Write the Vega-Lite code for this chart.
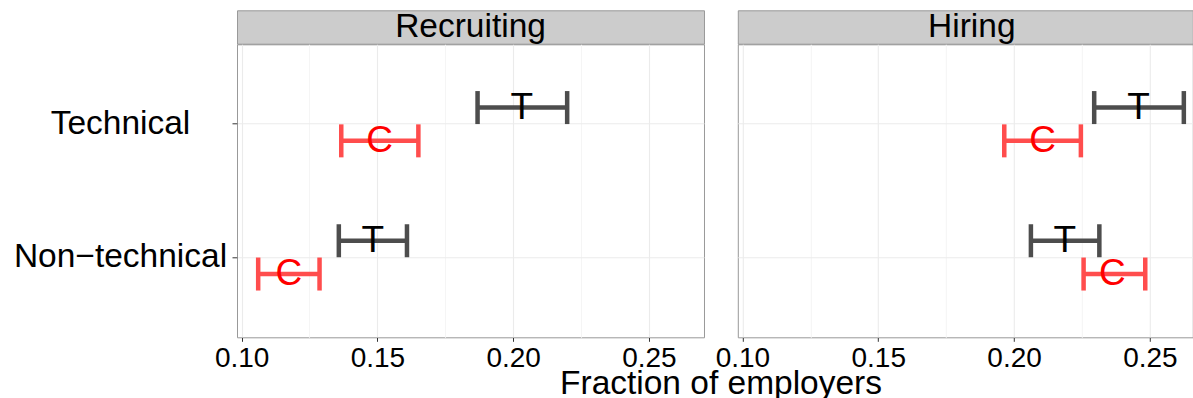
{
  "$schema": "https://vega.github.io/schema/vega-lite/v6.json",
  "padding": {"left": 12, "top": 9.3, "right": 0, "bottom": 0},
  "autosize": {"type": "pad"},
  "background": "white",
  "config": {"font": "Liberation Sans", "view": {"stroke": "#999999", "strokeWidth": 1}},
  "datasets": {
    "ci": [
      {"stage": "Recruiting", "job": "Technical", "group": "T", "lo": 0.1869, "mean": 0.2032, "hi": 0.2199},
      {"stage": "Recruiting", "job": "Technical", "group": "C", "lo": 0.1367, "mean": 0.1508, "hi": 0.1651},
      {"stage": "Recruiting", "job": "Non−technical", "group": "T", "lo": 0.1358, "mean": 0.1483, "hi": 0.1609},
      {"stage": "Recruiting", "job": "Non−technical", "group": "C", "lo": 0.1061, "mean": 0.1174, "hi": 0.1287},
      {"stage": "Hiring", "job": "Technical", "group": "T", "lo": 0.2295, "mean": 0.2458, "hi": 0.2625},
      {"stage": "Hiring", "job": "Technical", "group": "C", "lo": 0.1964, "mean": 0.2105, "hi": 0.2246},
      {"stage": "Hiring", "job": "Non−technical", "group": "T", "lo": 0.2062, "mean": 0.2187, "hi": 0.2314},
      {"stage": "Hiring", "job": "Non−technical", "group": "C", "lo": 0.2256, "mean": 0.2362, "hi": 0.2483}
    ],
    "strips": [{"stage": "Recruiting"}, {"stage": "Hiring"}]
  },
  "columns": 2,
  "align": "each",
  "bounds": "flush",
  "spacing": {"row": 0, "column": 33.8},
  "concat": [
    {
      "width": 467, "height": 33.4,
      "view": {"fill": "#cccccc", "stroke": "#999999"},
      "data": {"name": "strips"},
      "transform": [{"filter": "datum.stage === 'Recruiting'"}],
      "mark": {"type": "text", "fontSize": 33.5, "baseline": "middle", "color": "#000000"},
      "encoding": {"text": {"field": "stage", "type": "nominal"}}
    },
    {
      "width": 455, "height": 33.4,
      "view": {"fill": "#cccccc", "stroke": "#999999"},
      "data": {"name": "strips"},
      "transform": [{"filter": "datum.stage === 'Hiring'"}],
      "mark": {"type": "text", "fontSize": 33.5, "baseline": "middle", "color": "#000000", "dx": 6.5},
      "encoding": {"text": {"field": "stage", "type": "nominal"}}
    },
    {
      "width": 467, "height": 293,
      "data": {"name": "ci"},
      "transform": [{"filter": "datum.stage === 'Recruiting'"}],
      "encoding": {
        "y": {"field": "job", "type": "nominal", "sort": ["Technical", "Non−technical"],
              "scale": {"type": "band", "paddingInner": 0, "paddingOuter": 0.1},
              "axis": {"title": null, "domain": false, "grid": true, "gridColor": "#ebebeb", "gridWidth": 1.1, "bandPosition": 0.5,
                       "ticks": true, "tickSize": 5, "tickColor": "#333333", "tickWidth": 1,
                       "labelFontSize": 33.5, "labelColor": "#000000", "labelAlign": "center", "labelBaseline": "middle", "labelPadding": 112, "labelLimit": 0}},
        "yOffset": {"field": "group", "type": "nominal", "sort": ["T", "C"], "scale": {"paddingInner": 0, "paddingOuter": 1}}
      },
      "layer": [
        {
          "mark": {"type": "rule", "strokeWidth": 4.5},
          "encoding": {
            "x": {"field": "lo", "type": "quantitative",
                  "scale": {"domain": [0.0983, 0.2703], "nice": false, "zero": false},
                  "axis": {"title": "Fraction of employers", "titleFontSize": 33.5, "titleFontWeight": "normal", "titleColor": "#000000",
                           "titleX": 483.5, "titleY": 56.3, "titleAlign": "center", "titleBaseline": "alphabetic",
                           "values": [0.1, 0.125, 0.15, 0.175, 0.2, 0.225, 0.25],
                           "labelExpr": "round(datum.value*1000) % 50 === 0 ? format(datum.value, '.2f') : ''",
                           "gridColor": {"condition": {"test": "round(datum.value*1000) % 50 !== 0", "value": "#f5f5f5"}, "value": "#ebebeb"},
                           "tickOpacity": {"condition": {"test": "round(datum.value*1000) % 50 !== 0", "value": 0}, "value": 1},
                           "grid": true, "gridWidth": 1.1, "domain": false, "tickSize": 4, "tickColor": "#333333",
                           "labelFontSize": 28, "labelColor": "#000000", "labelPadding": 3, "labelFlush": false, "labelOverlap": false}},
            "x2": {"field": "hi"},
            "color": {"field": "group", "type": "nominal", "scale": {"domain": ["T", "C"], "range": ["#4d4d4d", "#ff4d4d"]}, "legend": null}
          }
        },
        {
          "mark": {"type": "tick", "size": 33, "thickness": 4.5, "opacity": 1},
          "encoding": {
            "x": {"field": "lo", "type": "quantitative"},
            "color": {"field": "group", "type": "nominal", "scale": {"domain": ["T", "C"], "range": ["#4d4d4d", "#ff4d4d"]}, "legend": null}
          }
        },
        {
          "mark": {"type": "tick", "size": 33, "thickness": 4.5, "opacity": 1},
          "encoding": {
            "x": {"field": "hi", "type": "quantitative"},
            "color": {"field": "group", "type": "nominal", "scale": {"domain": ["T", "C"], "range": ["#4d4d4d", "#ff4d4d"]}, "legend": null}
          }
        },
        {
          "mark": {"type": "text", "fontSize": 37, "baseline": "middle"},
          "encoding": {
            "x": {"field": "mean", "type": "quantitative"},
            "text": {"field": "group", "type": "nominal"},
            "color": {"field": "group", "type": "nominal", "scale": {"domain": ["T", "C"], "range": ["#000000", "#ff0000"]}, "legend": null}
          }
        }
      ],
      "resolve": {"scale": {"color": "independent"}}
    },
    {
      "width": 455, "height": 293,
      "data": {"name": "ci"},
      "transform": [{"filter": "datum.stage === 'Hiring'"}],
      "encoding": {
        "y": {"field": "job", "type": "nominal", "sort": ["Technical", "Non−technical"],
              "scale": {"type": "band", "paddingInner": 0, "paddingOuter": 0.1},
              "axis": {"title": null, "domain": false, "grid": true, "gridColor": "#ebebeb", "gridWidth": 1.1, "bandPosition": 0.5,
                       "ticks": false, "labels": false}},
        "yOffset": {"field": "group", "type": "nominal", "sort": ["T", "C"], "scale": {"paddingInner": 0, "paddingOuter": 1}}
      },
      "layer": [
        {
          "mark": {"type": "rule", "strokeWidth": 4.5},
          "encoding": {
            "x": {"field": "lo", "type": "quantitative",
                  "scale": {"domain": [0.0983, 0.2658], "nice": false, "zero": false},
                  "axis": {"title": null,
                           "values": [0.1, 0.125, 0.15, 0.175, 0.2, 0.225, 0.25],
                           "labelExpr": "round(datum.value*1000) % 50 === 0 ? format(datum.value, '.2f') : ''",
                           "gridColor": {"condition": {"test": "round(datum.value*1000) % 50 !== 0", "value": "#f5f5f5"}, "value": "#ebebeb"},
                           "tickOpacity": {"condition": {"test": "round(datum.value*1000) % 50 !== 0", "value": 0}, "value": 1},
                           "grid": true, "gridWidth": 1.1, "domain": false, "tickSize": 4, "tickColor": "#333333",
                           "labelFontSize": 28, "labelColor": "#000000", "labelPadding": 3, "labelFlush": false, "labelOverlap": false}},
            "x2": {"field": "hi"},
            "color": {"field": "group", "type": "nominal", "scale": {"domain": ["T", "C"], "range": ["#4d4d4d", "#ff4d4d"]}, "legend": null}
          }
        },
        {
          "mark": {"type": "tick", "size": 33, "thickness": 4.5, "opacity": 1},
          "encoding": {
            "x": {"field": "lo", "type": "quantitative"},
            "color": {"field": "group", "type": "nominal", "scale": {"domain": ["T", "C"], "range": ["#4d4d4d", "#ff4d4d"]}, "legend": null}
          }
        },
        {
          "mark": {"type": "tick", "size": 33, "thickness": 4.5, "opacity": 1},
          "encoding": {
            "x": {"field": "hi", "type": "quantitative"},
            "color": {"field": "group", "type": "nominal", "scale": {"domain": ["T", "C"], "range": ["#4d4d4d", "#ff4d4d"]}, "legend": null}
          }
        },
        {
          "mark": {"type": "text", "fontSize": 37, "baseline": "middle"},
          "encoding": {
            "x": {"field": "mean", "type": "quantitative"},
            "text": {"field": "group", "type": "nominal"},
            "color": {"field": "group", "type": "nominal", "scale": {"domain": ["T", "C"], "range": ["#000000", "#ff0000"]}, "legend": null}
          }
        }
      ],
      "resolve": {"scale": {"color": "independent"}}
    }
  ]
}
